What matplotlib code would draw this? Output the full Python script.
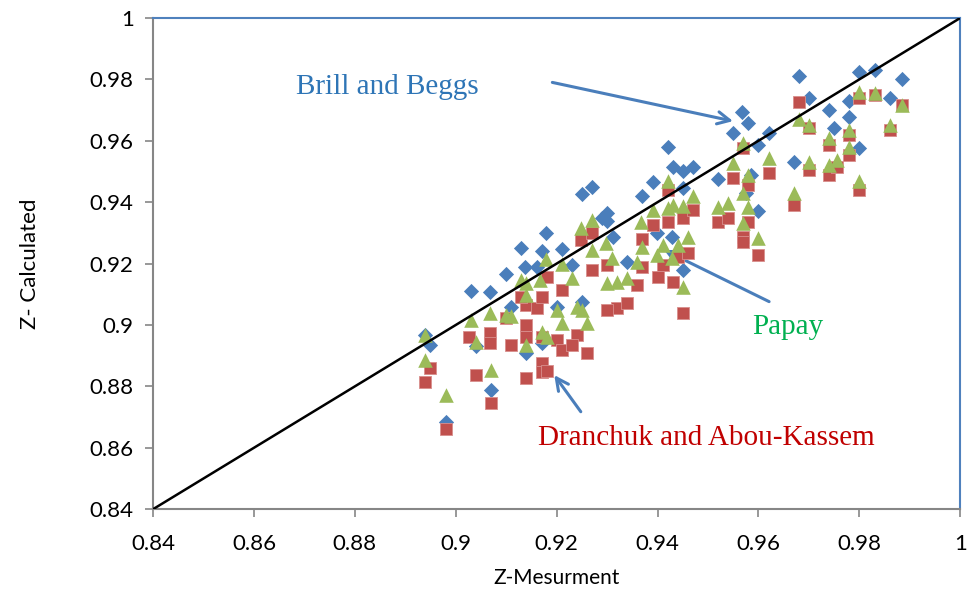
import numpy as np
import matplotlib.pyplot as plt
from matplotlib.ticker import FuncFormatter, MultipleLocator

# Brill and Beggs (blue diamonds)
bb_x = [0.8938, 0.8948, 0.898, 0.903, 0.9067, 0.9069, 0.904, 0.910, 0.911, 0.913,
        0.9138, 0.914, 0.916, 0.917, 0.9178, 0.917, 0.921, 0.923, 0.920, 0.925,
        0.925, 0.927, 0.929, 0.930, 0.930, 0.9311, 0.9339, 0.937, 0.939, 0.9398,
        0.942, 0.943, 0.9428, 0.945, 0.945, 0.947, 0.945, 0.952, 0.955, 0.9567,
        0.958, 0.960, 0.962, 0.960, 0.9575, 0.9585, 0.967, 0.968, 0.970, 0.974,
        0.975, 0.978, 0.978, 0.980, 0.980, 0.983, 0.986, 0.9885]
bb_y = [0.8966, 0.8935, 0.8685, 0.911, 0.9108, 0.8788, 0.893, 0.9166, 0.9059, 0.925,
        0.919, 0.891, 0.919, 0.924, 0.930, 0.894, 0.9248, 0.9195, 0.906, 0.9075,
        0.9427, 0.945, 0.935, 0.9364, 0.934, 0.9287, 0.9205, 0.942, 0.9466, 0.930,
        0.958, 0.9515, 0.9287, 0.950, 0.9446, 0.9515, 0.918, 0.9475, 0.9625, 0.9694,
        0.9658, 0.9586, 0.9625, 0.937, 0.943, 0.949, 0.953, 0.981, 0.974, 0.970,
        0.964, 0.973, 0.9677, 0.9825, 0.9577, 0.983, 0.974, 0.980]

# Papay (green triangles)
pp_x = [0.8938, 0.8938, 0.898, 0.9069, 0.903, 0.904, 0.9067, 0.910, 0.911, 0.913,
        0.914, 0.914, 0.914, 0.9166, 0.917, 0.918, 0.9178, 0.920, 0.921, 0.921,
        0.923, 0.924, 0.925, 0.926, 0.9269, 0.9249, 0.9269, 0.9297, 0.9309, 0.9299,
        0.9319, 0.9339, 0.936, 0.9369, 0.9368, 0.939, 0.9398, 0.941, 0.942, 0.942,
        0.943, 0.944, 0.9428, 0.945, 0.946, 0.945, 0.947, 0.952, 0.954, 0.955,
        0.957, 0.958, 0.957, 0.958, 0.957, 0.960, 0.962, 0.967, 0.968, 0.970,
        0.970, 0.974, 0.974, 0.9755, 0.978, 0.978, 0.980, 0.980, 0.983, 0.986,
        0.9885]
pp_y = [0.8967, 0.8886, 0.8772, 0.8853, 0.9016, 0.8945, 0.904, 0.9033, 0.903, 0.9147,
        0.9137, 0.9098, 0.8935, 0.9147, 0.8977, 0.896, 0.9215, 0.905, 0.920, 0.9006,
        0.9153, 0.906, 0.905, 0.9006, 0.9244, 0.9316, 0.9342, 0.9267, 0.9218, 0.9137,
        0.914, 0.9153, 0.9205, 0.9254, 0.9335, 0.9375, 0.9228, 0.926, 0.947, 0.938,
        0.939, 0.926, 0.9218, 0.9388, 0.9287, 0.9124, 0.942, 0.9384, 0.9397, 0.9528,
        0.9593, 0.9489, 0.943, 0.9384, 0.9332, 0.9283, 0.9544, 0.943, 0.967, 0.965,
        0.953, 0.961, 0.952, 0.9537, 0.9635, 0.958, 0.976, 0.947, 0.9756, 0.965,
        0.9717]

# Dranchuk and Abou-Kassem (red squares)
da_x = [0.8938, 0.8948, 0.898, 0.9027, 0.904, 0.9067, 0.9067, 0.9069, 0.910, 0.911,
        0.914, 0.914, 0.914, 0.914, 0.916, 0.917, 0.918, 0.913, 0.917, 0.917,
        0.917, 0.918, 0.920, 0.921, 0.921, 0.924, 0.923, 0.926, 0.9249, 0.9269,
        0.9269, 0.930, 0.932, 0.930, 0.934, 0.936, 0.937, 0.937, 0.939, 0.941,
        0.940, 0.942, 0.942, 0.944, 0.943, 0.945, 0.946, 0.945, 0.947, 0.952,
        0.954, 0.955, 0.957, 0.958, 0.958, 0.957, 0.957, 0.960, 0.962, 0.967,
        0.968, 0.970, 0.970, 0.974, 0.974, 0.9755, 0.978, 0.978, 0.980, 0.980,
        0.983, 0.986, 0.9885]
da_y = [0.8814, 0.886, 0.866, 0.896, 0.8837, 0.8974, 0.894, 0.8746, 0.9023, 0.8935,
        0.9065, 0.900, 0.896, 0.8827, 0.9055, 0.909, 0.9157, 0.909, 0.896, 0.8876,
        0.8847, 0.885, 0.895, 0.9114, 0.892, 0.8967, 0.8935, 0.891, 0.9277, 0.930,
        0.918, 0.9195, 0.9055, 0.905, 0.907, 0.913, 0.9189, 0.928, 0.9326, 0.9195,
        0.9157, 0.944, 0.9336, 0.922, 0.914, 0.935, 0.9234, 0.904, 0.9375, 0.9335,
        0.9349, 0.948, 0.9577, 0.9456, 0.9336, 0.9287, 0.927, 0.9228, 0.9495, 0.939,
        0.9725, 0.964, 0.9505, 0.9586, 0.949, 0.9515, 0.962, 0.9555, 0.974, 0.944,
        0.975, 0.9635, 0.9715]

fig = plt.figure(figsize=(9.69, 5.99), dpi=100)
ax = fig.add_axes([0.158, 0.150, 0.833, 0.820])

ax.scatter(bb_x, bb_y, marker='D', s=60, color='#4A7EBB', linewidths=0, zorder=3)
ax.scatter(pp_x, pp_y, marker='^', s=110, color='#9BBB59', linewidths=0, zorder=5)
ax.scatter(da_x, da_y, marker='s', s=80, color='#C0504D', edgecolors='#D98F8D',
           linewidths=0.6, zorder=4)

# linea 1:1
ax.plot([0.84, 1.0], [0.84, 1.0], color='black', lw=1.8, zorder=6)

ax.set_xlim(0.84, 1.0)
ax.set_ylim(0.84, 1.0)
ax.xaxis.set_major_locator(MultipleLocator(0.02))
ax.yaxis.set_major_locator(MultipleLocator(0.02))
fmt = FuncFormatter(lambda v, p: '{:g}'.format(round(v, 2)))
ax.xaxis.set_major_formatter(fmt)
ax.yaxis.set_major_formatter(fmt)

for s in ['left', 'bottom']:
    ax.spines[s].set_color('#868686')
    ax.spines[s].set_linewidth(1.5)
for s in ['top', 'right']:
    ax.spines[s].set_color('#4F81BD')
    ax.spines[s].set_linewidth(1.5)
ax.tick_params(direction='out', length=6, width=1.2, color='#868686',
               labelsize=16)
ax.tick_params(axis='x', pad=12)
ax.tick_params(axis='y', pad=8)
for lab in ax.get_xticklabels() + ax.get_yticklabels():
    lab.set_fontfamily('Lato')

ax.set_xlabel('Z-Mesurment', fontsize=15, family='Lato', labelpad=10)
ax.set_ylabel('Z- Calculated', fontsize=16, family='Lato', labelpad=36)

serif = 'Liberation Serif'
arr = dict(arrowstyle='->', color='#4A7EBB', lw=2.2, mutation_scale=22)
ax.annotate('', xy=(0.9555, 0.9662), xytext=(0.9186, 0.9792), arrowprops=arr)
ax.text(0.8864, 0.9775, 'Brill and Beggs', color='#2E75B6', fontsize=21,
        family=serif, ha='center', va='center')

ax.annotate('', xy=(0.9408, 0.9248), xytext=(0.9626, 0.9072), arrowprops=arr)
ax.text(0.9658, 0.8993, 'Papay', color='#00B050', fontsize=21,
        family=serif, ha='center', va='center')

ax.annotate('', xy=(0.9192, 0.8844), xytext=(0.9251, 0.8710), arrowprops=arr)
ax.text(0.9497, 0.8632, 'Dranchuk and Abou-Kassem', color='#C00000', fontsize=21,
        family=serif, ha='center', va='center')

fig.savefig('out.png', dpi=100)
